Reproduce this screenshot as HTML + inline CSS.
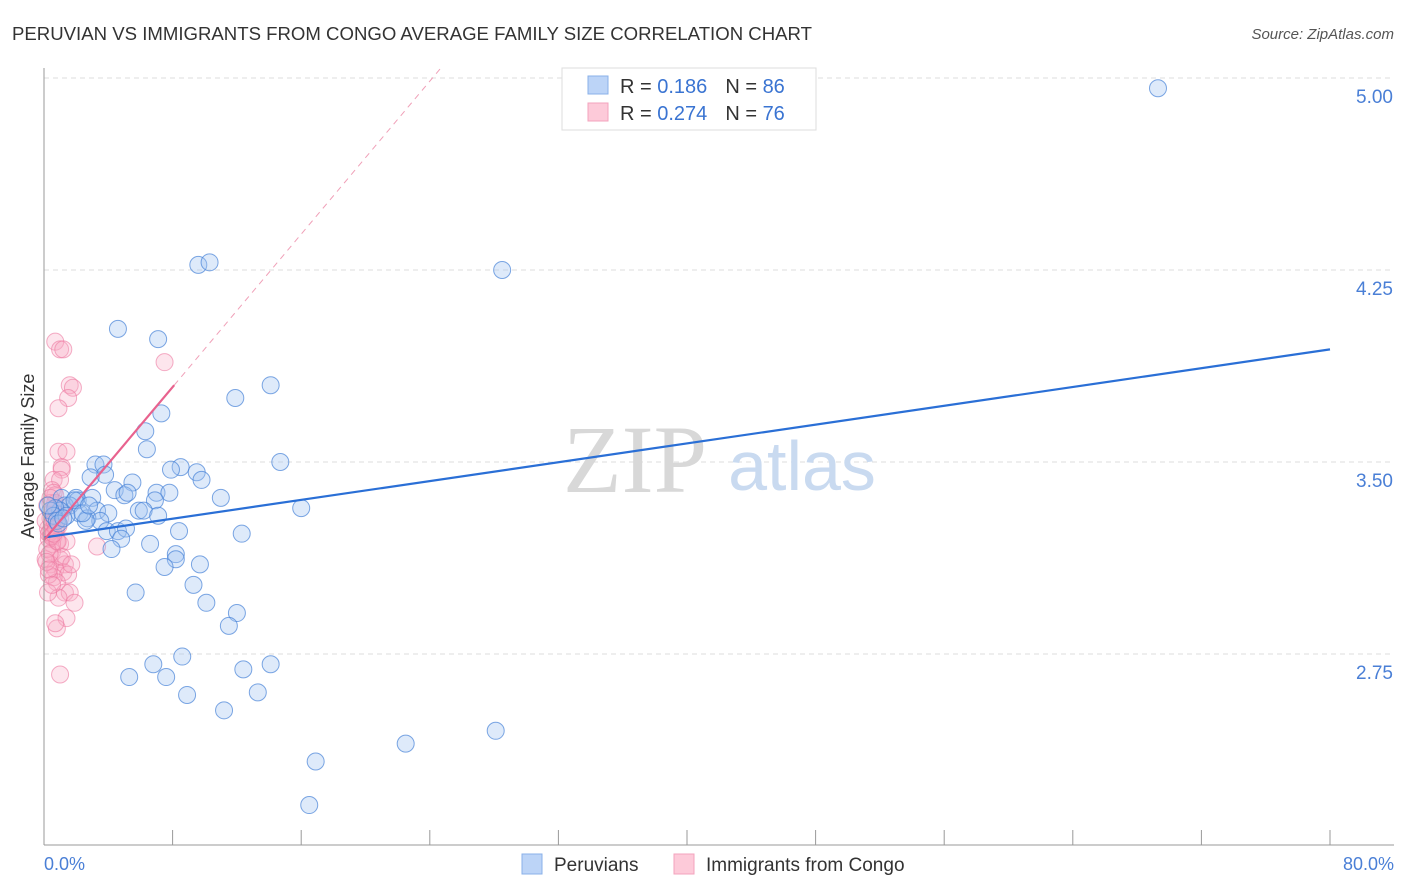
<!DOCTYPE html>
<html><head><meta charset="utf-8"><style>
body{margin:0;background:#fff;font-family:"Liberation Sans",sans-serif}
svg{display:block}
</style></head><body>
<svg id="c" width="1406" height="892" xmlns="http://www.w3.org/2000/svg">
<text x="12" y="40" font-size="18.6" fill="#333">PERUVIAN VS IMMIGRANTS FROM CONGO AVERAGE FAMILY SIZE CORRELATION CHART</text>
<text x="1394" y="39" font-size="15" fill="#555" text-anchor="end" font-style="italic">Source: ZipAtlas.com</text>
<g id="grid"></g>
<text x="635" y="492" font-size="96" fill="#d8d8d8" font-family="Liberation Serif,serif" text-anchor="middle">ZIP</text>
<text x="802" y="490" font-size="70" fill="#c9daf0" text-anchor="middle">atlas</text>
<g id="pts"></g>
<g id="lines"></g>
<line x1="44" y1="68" x2="44" y2="845" stroke="#999" stroke-width="1"/>
<line x1="44" y1="845" x2="1394" y2="845" stroke="#999" stroke-width="1"/>
<text x="34" y="456" font-size="18" fill="#333" text-anchor="middle" transform="rotate(-90 34 456)">Average Family Size</text>
<text x="44" y="870" font-size="18" fill="#4a7fd6">0.0%</text>
<text x="1394" y="870" font-size="18" fill="#4a7fd6" text-anchor="end">80.0%</text>
<g>
<rect x="562" y="68" width="254" height="62" fill="#fff" stroke="#ddd"/>
<rect x="588" y="76" width="20" height="18" fill="#bcd4f7" stroke="#8ab0e8"/>
<text x="620" y="93" font-size="20" fill="#333">R = <tspan fill="#3a74d2"> 0.186</tspan><tspan dx="18">N = </tspan><tspan fill="#3a74d2">86</tspan></text>
<rect x="588" y="103" width="20" height="18" fill="#fdcad9" stroke="#f3a3bd"/>
<text x="620" y="120" font-size="20" fill="#333">R = <tspan fill="#3a74d2">0.274</tspan><tspan dx="18">N = </tspan><tspan fill="#3a74d2">76</tspan></text>
</g>
<g>
<rect x="522" y="854" width="20" height="20" fill="#bcd4f7" stroke="#8ab0e8"/>
<text x="554" y="871" font-size="19" fill="#333">Peruvians</text>
<rect x="674" y="854" width="20" height="20" fill="#fdcad9" stroke="#f3a3bd"/>
<text x="706" y="871" font-size="19" fill="#333">Immigrants from Congo</text>
</g>
</svg>
<script>
const yTicks=[5.00,4.25,3.50,2.75];
const xTicks=[8,16,24,32,40,48,56,64,72,80];
const blueX=[69.3,9.6,10.3,28.5,4.6,7.1,14.1,11.9,7.3,6.3,6.4,14.7,3.2,3.7,8.5,7.9,9.5,3.8,9.8,5.5,2.9,4.4,5.0,5.2,7.0,7.8,1.1,2.0,2.1,3.0,6.9,11.0,1.3,1.6,3.3,4.0,5.9,6.2,7.1,16.0,1.0,2.2,2.7,3.5,2.6,3.9,4.6,5.1,8.4,12.3,4.8,6.6,4.2,8.2,8.2,9.7,7.5,9.3,5.7,10.1,12.0,11.5,6.8,8.6,14.1,12.4,5.3,7.6,13.3,8.9,11.2,22.5,28.1,16.9,16.5,0.7,0.4,0.6,0.8,0.25,1.4,1.9,2.4,0.9,1.2,2.8];
const blueY=[4.96,4.27,4.28,4.25,4.02,3.98,3.80,3.75,3.69,3.62,3.55,3.50,3.49,3.49,3.48,3.47,3.46,3.45,3.43,3.42,3.44,3.39,3.37,3.38,3.38,3.38,3.36,3.36,3.35,3.36,3.35,3.36,3.33,3.33,3.31,3.30,3.31,3.31,3.29,3.32,3.31,3.30,3.28,3.27,3.27,3.23,3.23,3.24,3.23,3.22,3.20,3.18,3.16,3.14,3.12,3.10,3.09,3.02,2.99,2.95,2.91,2.86,2.71,2.74,2.71,2.69,2.66,2.66,2.60,2.59,2.53,2.40,2.45,2.33,2.16,3.32,3.31,3.29,3.27,3.33,3.29,3.35,3.30,3.26,3.28,3.33];
const pinkX=[0.7,1.0,1.2,1.6,1.8,1.5,0.9,7.5,0.9,1.4,1.1,1.1,0.6,1.0,0.5,0.7,0.4,0.7,0.9,1.0,0.5,0.7,0.6,0.8,1.0,1.4,3.3,0.5,1.0,1.3,0.4,0.7,1.2,1.5,0.6,0.8,1.3,1.6,0.9,1.9,1.4,0.8,1.0,0.4,0.25,0.5,0.1,0.3,0.6,0.2,0.1,0.4,1.25,0.9,1.1,0.25,0.7,0.3,0.8,1.7,0.3,0.5,0.6,0.2,0.35,0.45,0.55,0.65,0.75,0.85,0.15,0.3,0.5,0.7,0.4,0.6];
const pinkY=[3.97,3.94,3.94,3.80,3.79,3.75,3.71,3.89,3.54,3.54,3.48,3.47,3.43,3.43,3.39,3.37,3.34,3.32,3.30,3.28,3.26,3.24,3.21,3.19,3.18,3.19,3.17,3.15,3.12,3.10,3.10,3.08,3.07,3.06,3.05,3.03,2.99,2.99,2.97,2.95,2.89,2.85,2.67,3.28,3.24,3.18,3.12,3.06,3.38,3.33,3.27,3.23,3.32,3.25,3.13,2.99,2.87,3.20,3.30,3.10,3.22,3.26,3.29,3.16,3.14,3.21,3.31,3.27,3.24,3.19,3.11,3.08,3.02,3.34,3.36,3.22];
const blueTrend=[3.205,3.94];
const pinkTrend=[3.195,3.80,8.1];
const X=v=>44+v*1286/80, Y=v=>462-(v-3.5)*256;
const NS='http://www.w3.org/2000/svg';
function mk(t,a,p){const e=document.createElementNS(NS,t);for(const k in a)e.setAttribute(k,a[k]);p.appendChild(e);return e;}
const g=document.getElementById('grid');
yTicks.forEach(t=>{
 const l=mk('line',{x1:44,x2:1394,y1:Y(t),y2:Y(t),stroke:'#ddd','stroke-dasharray':'5,4'},g);
 
 
 const tx=mk('text',{x:1393,y:Y(t)+25,'font-size':19,fill:'#4a7fd6','text-anchor':'end'},g);
 tx.textContent=t.toFixed(2);
 
 
});
xTicks.forEach(t=>{
 const l=mk('line',{x1:X(t),x2:X(t),y1:830,y2:845,stroke:'#999'},g);
 
 
});
const P=document.getElementById('pts');
pinkX.forEach((x,i)=>{const c=mk('circle',{cx:X(x),cy:Y(pinkY[i]),r:8.5,fill:'rgba(249,168,196,0.3)',stroke:'rgba(236,120,160,0.6)','stroke-width':1},P);
 
 });
blueX.forEach((x,i)=>{const c=mk('circle',{cx:X(x),cy:Y(blueY[i]),r:8.5,fill:'rgba(160,196,240,0.35)',stroke:'rgba(70,130,215,0.7)','stroke-width':1},P);
 
 });
const L=document.getElementById('lines');
const bl=mk('line',{x1:X(0),y1:Y(blueTrend[0]),x2:X(80),y2:Y(blueTrend[1]),stroke:'#2a6fd6','stroke-width':2.2},L);


const slope=(pinkTrend[1]-pinkTrend[0])/pinkTrend[2];
const xEnd=(5.035-pinkTrend[0])/slope;
const pd=mk('line',{x1:X(pinkTrend[2]),y1:Y(pinkTrend[1]),x2:X(xEnd),y2:Y(5.035),stroke:'#f0a0b8','stroke-width':1,'stroke-dasharray':'6,5'},L);


const pl=mk('line',{x1:X(0),y1:Y(pinkTrend[0]),x2:X(pinkTrend[2]),y2:Y(pinkTrend[1]),stroke:'#e8628e','stroke-width':2.2},L);


</script>
</body></html>
